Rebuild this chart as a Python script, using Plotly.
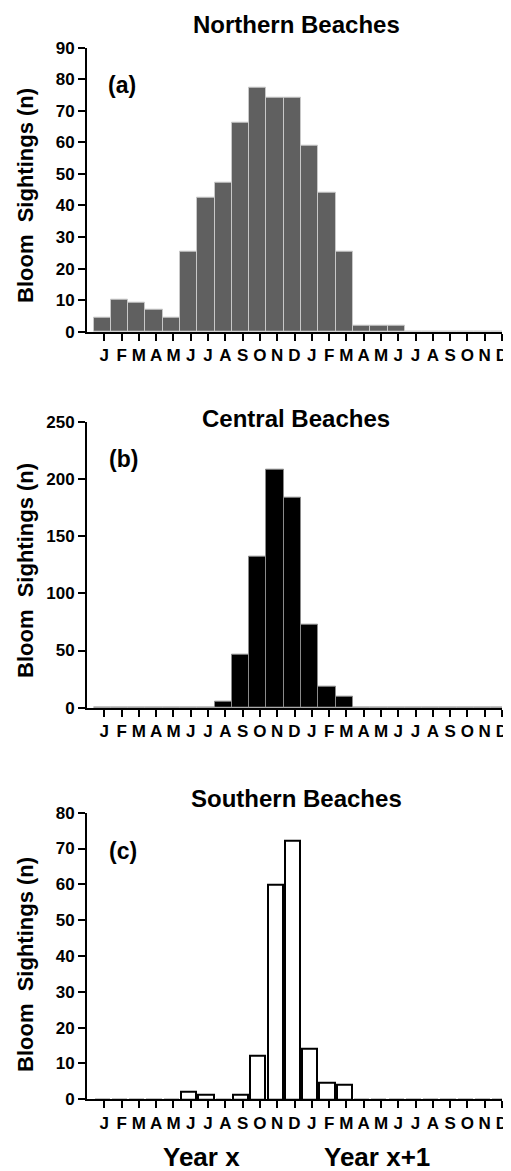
import numpy as np
import plotly.graph_objects as go

# ---------------- data ----------------
month_letters = ["J", "F", "M", "A", "M", "J", "J", "A", "S", "O", "N", "D",
                 "J", "F", "M", "A", "M", "J", "J", "A", "S", "O", "N", "D"]
month_index = list(range(1, 25))

northern = [4.4, 10.0, 9.3, 6.9, 4.4, 25.5, 42.6, 47.3, 66.1, 77.4, 74.1, 74.1,
            58.8, 44.2, 25.5, 1.9, 1.9, 1.9, 0, 0, 0, 0, 0, 0]
central = [0, 0, 0, 0, 0, 0, 0, 5.3, 45.9, 131.8, 208.3, 183.6,
           72.7, 18.5, 9.7, 0, 0, 0, 0, 0, 0, 0, 0, 0]
southern = [0, 0, 0, 0, 0, 2.1, 1.4, 0, 1.4, 12.1, 60.0, 72.2,
            14.2, 4.7, 4.2, 0, 0, 0, 0, 0, 0, 0, 0, 0]

titles = ["Northern Beaches", "Central Beaches", "Southern Beaches"]
panel_tags = ["(a)", "(b)", "(c)"]
y_max = [90, 250, 80]
y_step = [10, 50, 10]
y_title = "Bloom\u00a0 Sightings (n)"
year_labels = ["Year x", "Year x+1"]

# ---------------- layout helpers ----------------
OFF = 8  # page body margin
W, H = 511 - OFF, 1171 - OFF
FONT = "Liberation Sans, Arial, Helvetica, sans-serif"

def px_x(p):
    return (p - OFF) / W

def px_y(p):
    return 1 - (p - OFF) / H

x_dom = [px_x(87), px_x(502)]
y_doms = [[px_y(331.7), px_y(47.7)],
          [px_y(707.7), px_y(421.7)],
          [px_y(1099.3), px_y(812.7)]]

fig = go.Figure()

centers = [m - 0.12 for m in month_index]
series = [northern, central, southern]
fills = ["#606060", "#000000", "#ffffff"]
lines = ["#c8c8c8", "#8a8a8a", "#000000"]
lwidths = [1, 1, 2]
bwidths = [1.0, 1.0, 0.88]

for i in range(3):
    xa = "x" if i == 0 else f"x{i+1}"
    ya = "y" if i == 0 else f"y{i+1}"
    fig.add_trace(go.Bar(
        x=centers, y=series[i], width=bwidths[i],
        marker=dict(color=fills[i], line=dict(color=lines[i], width=lwidths[i])),
        xaxis=xa, yaxis=ya, showlegend=False, hoverinfo="x+y"))

axis_common = dict(showline=True, linecolor="black", linewidth=2,
                   ticks="outside", ticklen=7, tickwidth=2, tickcolor="black",
                   showgrid=False, zeroline=False, automargin=False)

layout = dict(width=W, height=H, margin=dict(l=0, r=0, t=0, b=0, pad=0),
              paper_bgcolor="white", plot_bgcolor="white", bargap=0,
              showlegend=False)

for i in range(3):
    xk = "xaxis" if i == 0 else f"xaxis{i+1}"
    yk = "yaxis" if i == 0 else f"yaxis{i+1}"
    ya = "y" if i == 0 else f"y{i+1}"
    xa = "x" if i == 0 else f"x{i+1}"
    layout[xk] = dict(axis_common, domain=x_dom, range=[0, 24], anchor=ya,
                      tickmode="array", tickvals=month_index, ticktext=month_letters,
                      tickfont=dict(family=FONT, size=17, color="black", weight="bold"))
    layout[yk] = dict(axis_common, domain=y_doms[i], range=[0, y_max[i]], anchor=xa,
                      tickmode="linear", tick0=0, dtick=y_step[i],
                      tickfont=dict(family=FONT, size=17, color="black", weight="bold"))

fig.update_layout(**layout)

ann = []
title_y = [24, 418, 798]
tag_pos = [(122, 85), (123, 459), (123, 851)]
ytitle_y = [196, 571, 965]
for i in range(3):
    ann.append(dict(text=f"<b>{titles[i]}</b>", x=px_x(296), y=px_y(title_y[i]),
                    xref="paper", yref="paper", xanchor="center", yanchor="middle",
                    showarrow=False, borderpad=0,
                    font=dict(family=FONT, size=24, color="black")))
    ann.append(dict(text=f"<b>{panel_tags[i]}</b>", x=px_x(tag_pos[i][0]), y=px_y(tag_pos[i][1]),
                    xref="paper", yref="paper", xanchor="center", yanchor="middle",
                    showarrow=False, font=dict(family=FONT, size=23, color="black")))
    ann.append(dict(text=f"<b>{y_title}</b>", x=px_x(25), y=px_y(ytitle_y[i]),
                    xref="paper", yref="paper", xanchor="center", yanchor="middle",
                    textangle=-90, showarrow=False,
                    font=dict(family=FONT, size=22, color="black")))

for lbl, xc in zip(year_labels, [201, 377]):
    ann.append(dict(text=f"<b>{lbl}</b>", x=px_x(xc), y=px_y(1157),
                    xref="paper", yref="paper", xanchor="center", yanchor="middle",
                    showarrow=False, font=dict(family=FONT, size=26, color="black")))

fig.update_layout(annotations=ann)
fig.write_html("out.html")
